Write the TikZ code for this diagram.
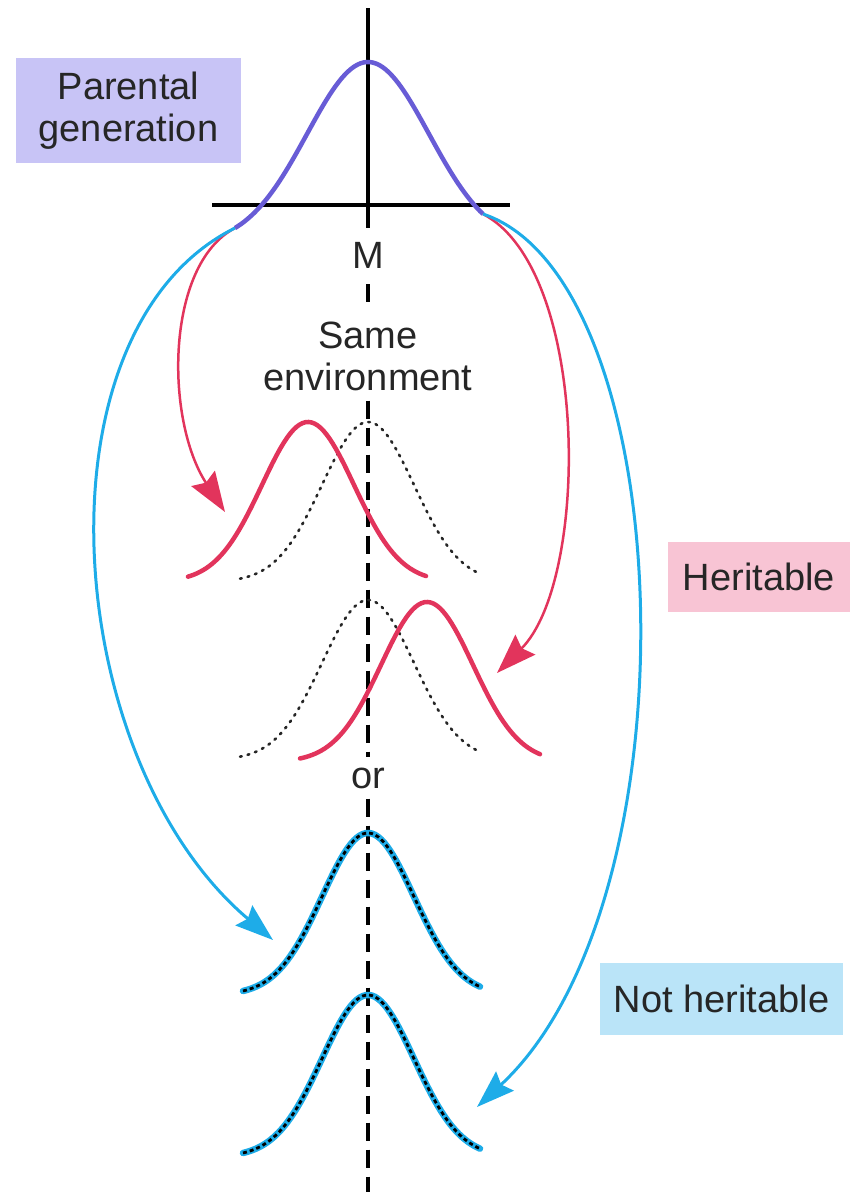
\documentclass[tikz,border=0pt]{standalone}
\usepackage{fontspec}
\setmainfont{Liberation Sans}
\usetikzlibrary{arrows.meta}
\definecolor{purp}{RGB}{104,92,214}
\definecolor{rd}{RGB}{226,52,92}
\definecolor{bl}{RGB}{30,172,232}
\definecolor{lav}{RGB}{200,196,246}
\definecolor{pinkbox}{RGB}{248,196,212}
\definecolor{bluebox}{RGB}{186,228,248}
\tikzset{
  lbl/.style={font=\fontsize{38}{42}\selectfont, align=center, inner sep=0pt, text=black!85},
  axisline/.style={line width=4pt},
  axisdash/.style={line width=3.5pt, dash pattern=on 18pt off 9pt},
  parentcurve/.style={purp, line width=4.5pt},
  redcurve/.style={rd, line width=4.5pt, line cap=round},
  dotcurve/.style={black!85, line width=2.6pt, dash pattern=on 1.8pt off 6pt, line cap=round},
  bluecurve/.style={bl, line width=6.5pt, line cap=round},
  bluedash/.style={black, line width=2.8pt, dash pattern=on 4pt off 3pt},
  redarrow/.style={rd, line width=2.5pt, -{Stealth[length=40pt,width=28pt,inset=5pt]}},
  bluearrow/.style={bl, line width=3pt, -{Stealth[length=38pt,width=26pt,inset=5pt]}}
}
\begin{document}
\begin{tikzpicture}[x=1pt,y=-1pt]
\useasboundingbox (0,0) rectangle (850,1192);
% label boxes
\node[lbl, fill=lav, minimum width=225pt, minimum height=105pt] (parental) at (128.5,110.5) {Parental\\generation};
\node[lbl, fill=pinkbox, minimum width=182pt, minimum height=70pt] (heritable) at (759,577) {Heritable};
\node[lbl, fill=bluebox, minimum width=243pt, minimum height=72pt] (notheritable) at (721.5,999) {Not heritable};
% axis texts
\node[lbl, inner sep=10pt] (M) at (368,255) {M};
\node[lbl, inner sep=10pt] (same) at (368,356) {Same\\environment};
\node[lbl, inner sep=10pt] (or) at (368,778) {or};
\coordinate (top) at (368,8);
\coordinate (axbot) at (368,228);
\coordinate (bot) at (368,1192);
\coordinate (hl) at (212,205);
\coordinate (hr) at (510,205);
% axes
\draw[axisline] (top) -- (axbot);
\draw[axisline] (hl) -- (hr);
\draw[axisdash, shorten <=6pt, shorten >=8pt] (M.south) -- (same.north);
\draw[axisdash] (same.south) -- (or.north);
\draw[axisdash] (or.south) -- (bot);
% parental curve
\draw[parentcurve] plot[domain=-133:115, samples=80] ({368+\x},{245-183*exp(-0.5*(\x/61)*(\x/61))});
\coordinate (pl) at (235,228);
\coordinate (pr) at (483,214);
% dotted reference curves
\draw[dotcurve] plot[domain=-128:110, samples=80] ({368+\x},{582-160*exp(-0.5*(\x/46)*(\x/46))});
\draw[dotcurve] plot[domain=-128:110, samples=80] ({368+\x},{760-160*exp(-0.5*(\x/46)*(\x/46))});
% red curves
\draw[redcurve] plot[domain=-120:118, samples=80] ({308+\x},{582-160*exp(-0.5*(\x/46)*(\x/46))});
\draw[redcurve] plot[domain=-127:113, samples=80] ({427+\x},{762-160*exp(-0.5*(\x/46)*(\x/46))});
% blue curves
\foreach \yb in {995,1157}{
  \draw[bluecurve] plot[domain=-125:112, samples=80] ({368+\x},{\yb-162*exp(-0.5*(\x/46)*(\x/46))});
  \draw[bluedash] plot[domain=-125:112, samples=80] ({368+\x},{\yb-162*exp(-0.5*(\x/46)*(\x/46))});
}
% arrow tips
\coordinate (rltip) at (225,512);
\coordinate (rrtip) at (497,673);
\coordinate (bltip) at (273,940);
\coordinate (brtip) at (477,1107);
% arrows
\draw[redarrow] (pl) .. controls (165,265) and (165,420) .. (rltip);
\draw[redarrow] (pr) .. controls (590,270) and (590,580) .. (rrtip);
\draw[bluearrow] (pl) .. controls (30,330) and (60,760) .. (bltip);
\draw[bluearrow] (pr) .. controls (680,280) and (700,900) .. (brtip);
\end{tikzpicture}
\end{document}
